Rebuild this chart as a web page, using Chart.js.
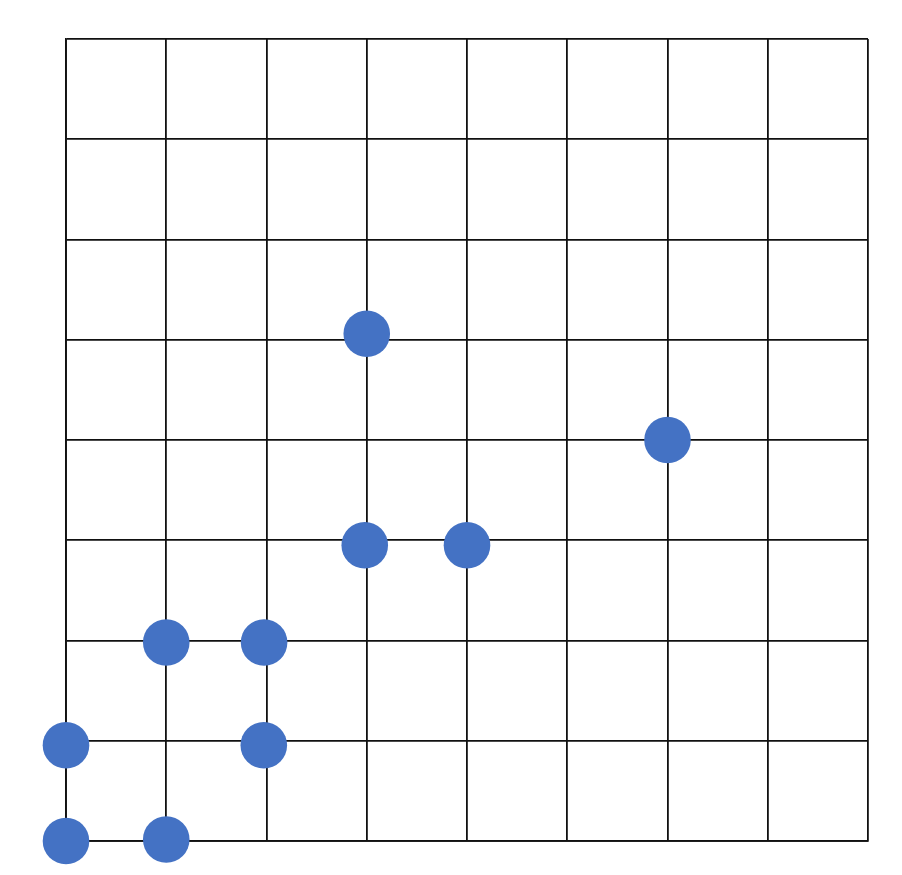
<!DOCTYPE html>
<html>
<head>
<meta charset="utf-8">
<script src="https://cdn.jsdelivr.net/npm/chart.js@4/dist/chart.umd.min.js"></script>
<style>
  html, body { margin: 0; padding: 0; background: #ffffff; }
  #wrap { width: 902px; height: 875px; }
</style>
</head>
<body>
<div id="wrap"><canvas id="c" width="902" height="875"></canvas></div>
<script>
const xValues = [3, 6, 2.98, 4, 1, 1.976, 0, 1.973, 0, 1];
const yValues = [5.06, 4, 2.95, 2.95, 1.98, 1.98, 0.955, 0.955, 0, 0.015];
const axisMin = 0;
const axisMax = 8;

const points = xValues.map((x, i) => ({ x: x, y: yValues[i] }));

new Chart(document.getElementById('c'), {
  type: 'scatter',
  data: {
    datasets: [{
      data: points,
      backgroundColor: '#4472C4',
      borderColor: '#4472C4',
      borderWidth: 0,
      pointRadius: 23.3,
      pointHoverRadius: 23.3,
      clip: false
    }]
  },
  options: {
    responsive: false,
    animation: false,
    events: [],
    layout: { padding: { left: 66, top: 39, right: 34, bottom: 34 } },
    plugins: { legend: { display: false }, tooltip: { enabled: false } },
    scales: {
      x: {
        type: 'linear', min: axisMin, max: axisMax,
        ticks: { display: false, stepSize: 1 },
        grid: { color: '#111111', lineWidth: 1.8, drawTicks: false },
        border: { display: true, color: '#111111', width: 1.8 }
      },
      y: {
        type: 'linear', min: axisMin, max: axisMax,
        ticks: { display: false, stepSize: 1 },
        grid: { color: '#111111', lineWidth: 1.8, drawTicks: false },
        border: { display: true, color: '#111111', width: 1.8 }
      }
    }
  }
});
</script>
</body>
</html>
